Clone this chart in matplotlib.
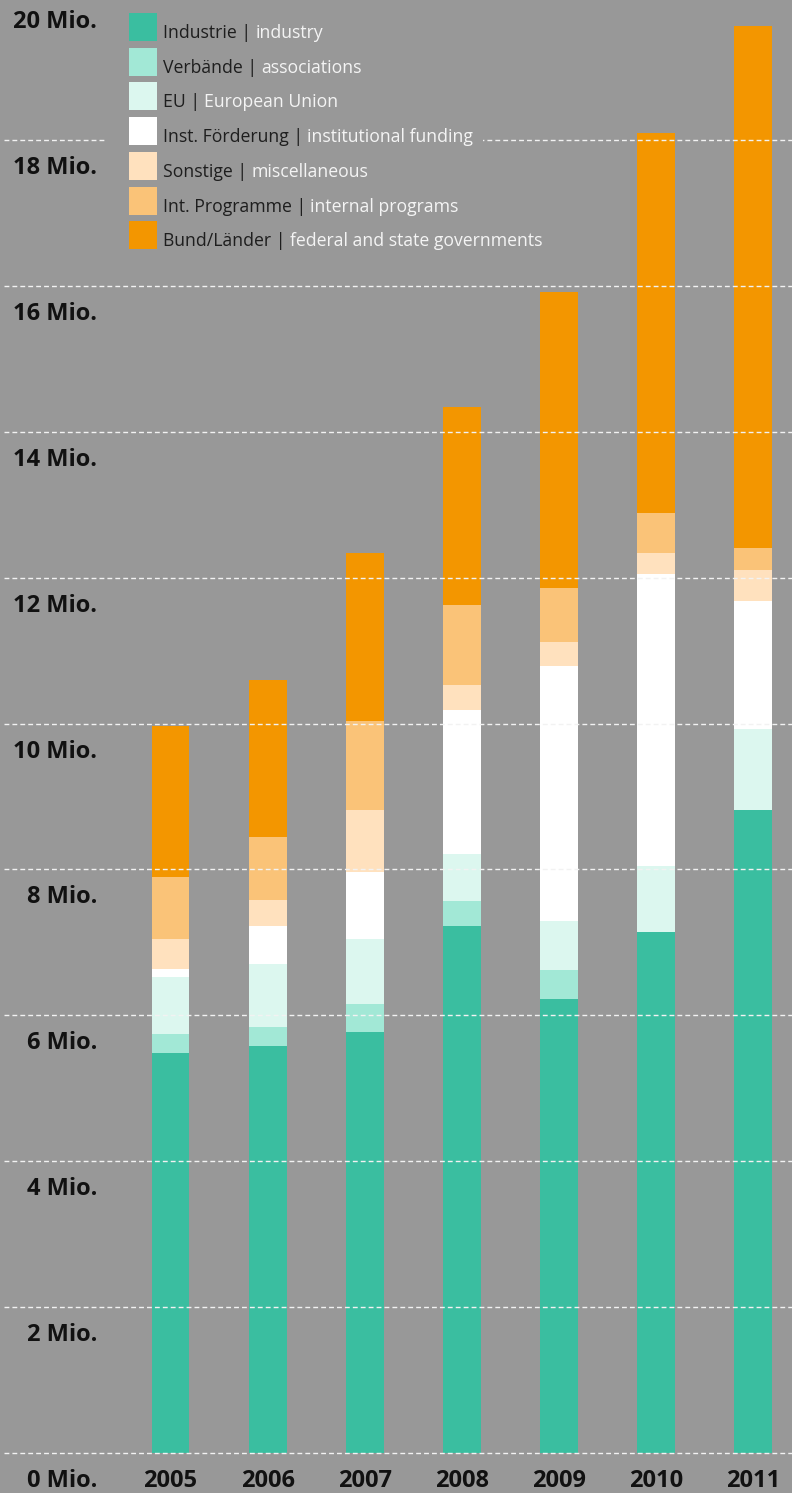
import matplotlib
matplotlib.use("Agg")
import matplotlib.pyplot as plt
from matplotlib.patches import Rectangle
import numpy as np

# data in Mio. EUR
years = ["2005", "2006", "2007", "2008", "2009", "2010", "2011"]
industrie = [5.49, 5.58, 5.77, 7.22, 6.23, 7.14, 8.82]
verbaende = [0.25, 0.26, 0.39, 0.34, 0.39, 0.00, 0.00]
eu = [0.78, 0.87, 0.88, 0.65, 0.67, 0.90, 1.10]
inst_foerderung = [0.12, 0.51, 0.92, 1.98, 3.50, 4.01, 1.76]
sonstige = [0.40, 0.36, 0.86, 0.34, 0.33, 0.29, 0.42]
int_programme = [0.86, 0.87, 1.22, 1.10, 0.74, 0.54, 0.31]
bund_laender = [2.06, 2.15, 2.30, 2.71, 4.06, 5.22, 7.15]

series = [industrie, verbaende, eu, inst_foerderung, sonstige, int_programme, bund_laender]
labels_de = ["Industrie", "Verbände", "EU", "Inst. Förderung", "Sonstige",
             "Int. Programme", "Bund/Länder"]
labels_en = ["industry", "associations", "European Union", "institutional funding",
             "miscellaneous", "internal programs", "federal and state governments"]
colors = ["#3abea0", "#a2e8d6", "#dcf7ef", "#ffffff", "#ffe1be", "#fac378", "#f39600"]
y_ticks = list(range(0, 21, 2))

bg = "#989898"
dark = "#111111"
light = "#f4f4f4"

fig = plt.figure(figsize=(7.92, 14.93), dpi=100, facecolor=bg)
ax = fig.add_axes([0, 0, 1, 1])
ax.set_facecolor(bg)

# pixel layout: bar centres at 170.5 + 97.1*i, zero line at y=1453, 72.95 px per Mio.
px_step = 97.1
ax.set_xlim(-170.5 / px_step, (792 - 170.5) / px_step)
ax.set_ylim(-40 / 72.95, 1453 / 72.95)
ax.axis("off")

x = np.arange(len(years))
bottom = np.zeros(len(years))
for vals, col in zip(series, colors):
    ax.bar(x, vals, width=0.39, bottom=bottom, color=col, linewidth=0, zorder=2)
    bottom += np.array(vals)

for v in y_ticks:
    ax.axhline(v, xmin=4 / 792, xmax=1, color="#f2f2f2", lw=1.0,
               ls=(0, (3.5, 2.2)), zorder=3)
    ax.text(97 / px_step - 170.5 / px_step, v - 0.385, f"{v} Mio.", ha="right",
            va="center", fontsize=17, fontweight="bold", family="Open Sans",
            color=dark)

for xi, yr in zip(x, years):
    ax.text(xi, -0.385, yr, ha="center", va="center", fontsize=17,
            fontweight="bold", family="Open Sans", color=dark)

# legend drawn in pixel coordinates on top
lax = fig.add_axes([0, 0, 1, 1])
lax.set_xlim(0, 792)
lax.set_ylim(1493, 0)
lax.axis("off")
lax.patch.set_alpha(0)
lax.add_patch(Rectangle((106, 4), 377, 248, facecolor=bg, edgecolor="none", zorder=1))

for i, (de, en, col) in enumerate(zip(labels_de, labels_en, colors)):
    top = 13 + i * 34.7
    lax.add_patch(Rectangle((129, top), 28, 28, facecolor=col, edgecolor="none", zorder=2))
    t1 = lax.text(163, top + 25, de + " |", ha="left", va="baseline", fontsize=12.7,
                  family="Open Sans", color="#1e1e1e", zorder=3)
    lax.annotate(en, xy=(1, 0), xycoords=t1, xytext=(3, 0),
                 textcoords="offset points", ha="left", va="bottom",
                 fontsize=12.7, family="Open Sans", color=light, zorder=3)

fig.savefig("out.png", dpi=100, facecolor=bg)
